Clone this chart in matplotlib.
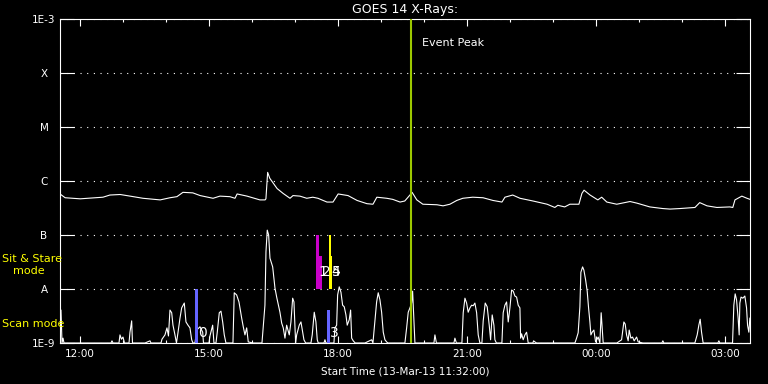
import numpy as np
import matplotlib
matplotlib.use('Agg')
import matplotlib.pyplot as plt
from matplotlib.ticker import NullLocator

plt.rcParams['font.family'] = ['DejaVu Sans']

# hours after start time 13-Mar-13 11:32:00
long_hours = [0.00, 0.12, 0.47, 1.00, 1.16, 1.40, 1.63, 1.93, 2.33, 2.56,
              2.72, 2.86, 3.09, 3.26, 3.56, 3.72, 3.95, 4.07, 4.12, 4.35,
              4.65, 4.77, 4.79, 4.83, 4.88, 5.05, 5.19, 5.35, 5.42, 5.58,
              5.74, 5.88, 6.00, 6.21, 6.35, 6.47, 6.70, 6.91, 7.14, 7.28,
              7.37, 7.60, 7.74, 7.91, 8.02, 8.14, 8.19, 8.30, 8.44, 8.77,
              8.91, 9.07, 9.23, 9.37, 9.60, 9.84, 10.07, 10.28, 10.35, 10.53,
              10.70, 11.00, 11.33, 11.51, 11.58, 11.74, 11.86, 12.07, 12.14, 12.19,
              12.33, 12.51, 12.60, 12.72, 12.95, 13.26, 13.42, 13.72, 14.02, 14.19,
              14.42, 14.77, 14.88, 15.05, 15.28, 15.58, 15.65, 15.70, 15.86, 15.98,
              16.05]
# log10 of flux (W/m^2), 1-8 A channel
long_log = [-6.24, -6.31, -6.33, -6.30, -6.26, -6.25, -6.28, -6.32, -6.35, -6.31,
            -6.29, -6.21, -6.22, -6.27, -6.32, -6.28, -6.29, -6.32, -6.24, -6.28,
            -6.35, -6.35, -6.33, -5.84, -5.95, -6.14, -6.23, -6.32, -6.27, -6.28,
            -6.32, -6.30, -6.32, -6.39, -6.39, -6.24, -6.27, -6.36, -6.42, -6.43,
            -6.30, -6.32, -6.34, -6.39, -6.37, -6.26, -6.21, -6.35, -6.43, -6.44,
            -6.46, -6.43, -6.36, -6.32, -6.30, -6.31, -6.36, -6.39, -6.30, -6.26,
            -6.32, -6.37, -6.43, -6.49, -6.45, -6.48, -6.43, -6.43, -6.23, -6.17,
            -6.26, -6.35, -6.30, -6.39, -6.43, -6.38, -6.41, -6.48, -6.51, -6.52,
            -6.51, -6.49, -6.40, -6.46, -6.49, -6.48, -6.49, -6.35, -6.28, -6.32,
            -6.34]

# 0.5-4 A channel
short_hours = [0.000, 0.023, 0.047, 0.070, 0.093, 1.186, 1.209, 1.233, 1.372, 1.395,
               1.430, 1.465, 1.500, 1.605, 1.628, 1.667, 1.686, 1.977, 2.093, 2.116,
               2.349, 2.372, 2.442, 2.488, 2.523, 2.558, 2.598, 2.628, 2.674, 2.709,
               2.744, 2.791, 2.830, 2.891, 2.930, 2.977, 3.023, 3.063, 3.093, 3.140,
               3.179, 3.256, 3.319, 3.337, 3.465, 3.488, 3.551, 3.581, 3.628, 3.658,
               3.705, 3.744, 3.784, 3.821, 3.860, 4.023, 4.053, 4.109, 4.163, 4.226,
               4.263, 4.302, 4.342, 4.379, 4.488, 4.698, 4.767, 4.791, 4.821, 4.853,
               4.884, 4.947, 5.000, 5.040, 5.116, 5.156, 5.193, 5.233, 5.272, 5.333,
               5.372, 5.412, 5.442, 5.481, 5.505, 5.565, 5.605, 5.644, 5.674, 5.714,
               5.837, 5.867, 5.914, 5.953, 5.984, 6.007, 6.140, 6.163, 6.186, 6.372,
               6.395, 6.435, 6.458, 6.495, 6.535, 6.574, 6.612, 6.651, 6.681, 6.728,
               6.760, 6.784, 6.821, 6.867, 7.093, 7.249, 7.279, 7.326, 7.365, 7.402,
               7.442, 7.481, 7.519, 7.558, 7.598, 7.628, 8.023, 8.063, 8.100, 8.140,
               8.179, 8.202, 8.233, 8.256, 8.698, 8.721, 8.756, 9.163, 9.186, 9.221,
               9.349, 9.379, 9.419, 9.458, 9.495, 9.535, 9.574, 9.612, 9.651, 9.691,
               9.728, 9.767, 9.814, 9.844, 9.891, 9.937, 9.984, 10.016, 10.053, 10.093,
               10.116, 10.151, 10.279, 10.309, 10.349, 10.388, 10.426, 10.465, 10.505, 10.542,
               10.581, 10.621, 10.658, 10.698, 10.714, 10.737, 10.774, 10.814, 10.853, 10.891,
               11.000, 11.016, 11.047, 11.086, 11.977, 12.016, 12.053, 12.093, 12.116, 12.156,
               12.186, 12.226, 12.263, 12.295, 12.326, 12.349, 12.379, 12.419, 12.458, 12.519,
               12.558, 12.588, 12.612, 12.635, 12.953, 13.063, 13.116, 13.147, 13.179, 13.216,
               13.240, 13.279, 13.319, 13.356, 13.412, 13.449, 13.558, 14.000, 14.023, 14.047,
               14.767, 14.821, 14.860, 14.891, 14.923, 14.960, 15.302, 15.326, 15.349, 15.644,
               15.674, 15.705, 15.737, 15.774, 15.798, 15.814, 15.842, 15.884, 15.930, 15.970,
               15.993, 16.023, 16.047]
short_log = [-8.39, -8.39, -9.00, -8.91, -9.00, -9.00, -8.96, -9.00, -9.00, -8.85,
             -8.93, -8.89, -9.00, -9.00, -8.80, -8.59, -9.00, -9.00, -8.96, -9.00,
             -9.00, -8.93, -8.85, -8.72, -8.87, -8.39, -8.44, -8.67, -8.85, -9.00,
             -8.81, -8.54, -8.35, -8.26, -8.61, -8.67, -8.72, -8.94, -9.00, -9.00,
             -8.76, -8.70, -8.80, -9.00, -9.00, -8.87, -8.67, -9.00, -9.00, -8.80,
             -8.44, -8.41, -8.61, -8.85, -9.00, -9.00, -8.07, -8.11, -8.24, -8.54,
             -8.70, -8.85, -8.72, -8.98, -9.00, -9.00, -8.30, -7.31, -6.91, -7.00,
             -7.43, -7.59, -7.98, -8.15, -8.43, -8.63, -8.72, -8.91, -8.67, -8.85,
             -8.61, -8.17, -8.24, -9.00, -8.85, -8.67, -8.61, -8.80, -8.94, -9.00,
             -9.00, -8.85, -8.43, -8.61, -8.94, -9.00, -9.00, -8.94, -9.00, -9.00,
             -8.72, -8.67, -8.11, -7.96, -8.06, -8.30, -8.33, -8.48, -8.67, -8.57,
             -8.39, -8.91, -8.96, -9.00, -9.00, -8.94, -9.00, -8.59, -8.24, -8.07,
             -8.20, -8.43, -8.80, -8.94, -8.98, -9.00, -9.00, -8.72, -8.43, -8.35,
             -8.26, -8.04, -8.59, -9.00, -9.00, -8.85, -9.00, -9.00, -8.91, -9.00,
             -9.00, -8.44, -8.17, -8.26, -8.43, -8.35, -8.30, -8.31, -8.26, -8.44,
             -8.85, -9.00, -9.00, -8.59, -8.26, -8.33, -8.67, -8.94, -8.48, -8.67,
             -8.94, -9.00, -9.00, -8.44, -8.30, -8.24, -8.61, -8.35, -8.02, -8.04,
             -8.13, -8.15, -8.30, -8.35, -8.91, -8.83, -8.94, -8.85, -8.80, -9.00,
             -9.00, -8.96, -8.98, -9.00, -9.00, -8.91, -8.81, -8.33, -7.69, -7.59,
             -7.65, -7.83, -8.04, -8.35, -8.61, -8.85, -8.80, -8.76, -8.98, -8.89,
             -9.00, -8.44, -8.72, -9.00, -9.00, -8.94, -8.61, -8.65, -8.85, -8.96,
             -8.76, -8.91, -8.89, -8.96, -8.89, -8.98, -9.00, -9.00, -8.96, -9.00,
             -9.00, -8.85, -8.67, -8.56, -8.80, -9.00, -9.00, -8.96, -9.00, -9.00,
             -8.30, -8.09, -8.20, -8.54, -8.85, -8.26, -8.15, -8.17, -8.13, -8.35,
             -8.67, -8.80, -8.54]

# observing mode markers
marker_start = [3.14, 5.95, 5.95, 6.21, 6.26, 6.26]
marker_end = [3.21, 6.02, 6.09, 6.28, 6.31, 6.33]
marker_low = [-9.0, -8.0, -8.0, -9.0, -8.0, -8.0]
marker_high = [-8.0, -7.0, -7.39, -8.39, -7.0, -7.39]
marker_color = ['#6464ff', '#c800c8', '#c800c8', '#6464ff', '#ffff00', '#ffff00']
marker_label = ['0', '1', '2', '3', '4', '5']
marker_label_log = [-8.81, -7.69, -7.69, -8.81, -7.69, -7.69]

event_peak = 8.156

ytick_exp = [-9, -8, -7, -6, -5, -4, -3]
ytick_labels = ['1E-9', 'A', 'B', 'C', 'M', 'X', '1E-3']
xtick_hours = [0.467, 3.467, 6.467, 9.467, 12.467, 15.467]
xtick_labels = ['12:00', '15:00', '18:00', '21:00', '00:00', '03:00']
xminor_hours = [1.467, 2.467, 4.467, 5.467, 7.467, 8.467, 10.467, 11.467, 13.467, 14.467]

fig = plt.figure(figsize=(7.68, 3.84), dpi=100, facecolor='black')
ax = fig.add_axes([60 / 768, 41 / 384, 690 / 768, 324 / 384])
ax.set_facecolor('black')
ax.set_yscale('log')
ax.set_ylim(1e-9, 1e-3)
ax.set_xlim(0, 16.05)

for s in ax.spines.values():
    s.set_color('white')
    s.set_linewidth(0.8)

ax.set_yticks([10.0 ** e for e in ytick_exp])
ax.set_yticklabels(ytick_labels)
ax.yaxis.set_minor_locator(NullLocator())
ax.tick_params(axis='y', which='major', direction='in', length=10, width=0.8,
               color='white', labelcolor='white', labelsize=7.5, pad=11.5,
               left=True, right=True)
for lbl in ax.get_yticklabels():
    lbl.set_horizontalalignment('center')

ax.set_xticks(xtick_hours)
ax.set_xticklabels(xtick_labels)
ax.set_xticks(xminor_hours, minor=True)
ax.tick_params(axis='x', which='major', direction='in', length=5, width=0.8,
               color='white', labelcolor='white', labelsize=7.5, pad=4,
               top=True, bottom=True)
ax.tick_params(axis='x', which='minor', direction='in', length=2.5, width=0.8,
               color='white', top=True, bottom=True)

ax.yaxis.grid(True, color='white', linestyle=(0, (1, 5)), linewidth=0.8)

ax.plot(long_hours, 10.0 ** np.array(long_log), color='white', lw=0.8, zorder=2)
ax.plot(short_hours, 10.0 ** np.array(short_log), color='white', lw=0.8, zorder=2)

for t0, t1, lo, hi, c, lab, ll in zip(marker_start, marker_end, marker_low, marker_high,
                                      marker_color, marker_label, marker_label_log):
    ax.fill_between([t0, t1], 10.0 ** lo, 10.0 ** hi, color=c, lw=0, zorder=3)
    ax.text(t1, 10.0 ** ll, lab, color='white', fontsize=10, ha='left', va='center', zorder=5)

ax.axvline(event_peak, color='#9cc800', lw=1.5, zorder=4)
ax.annotate('Event Peak', xy=(event_peak, 1e-3), xytext=(11, -24),
            textcoords='offset pixels', color='white', fontsize=8, va='center', ha='left')

fig.text(405 / 768, 1 - 9 / 384, 'GOES 14 X-Rays:', color='white', fontsize=9,
         ha='center', va='center')
fig.text(405 / 768, 1 - 371 / 384, 'Start Time (13-Mar-13 11:32:00)', color='white',
         fontsize=7.5, ha='center', va='center')
fig.text(2 / 768, 1 - 259 / 384, 'Sit & Stare', color='#ffff00', fontsize=8, va='center')
fig.text(13 / 768, 1 - 271 / 384, 'mode', color='#ffff00', fontsize=8, va='center')
fig.text(2 / 768, 1 - 324 / 384, 'Scan mode', color='#ffff00', fontsize=8, va='center')

fig.savefig('out.png', dpi=100, facecolor='black')
